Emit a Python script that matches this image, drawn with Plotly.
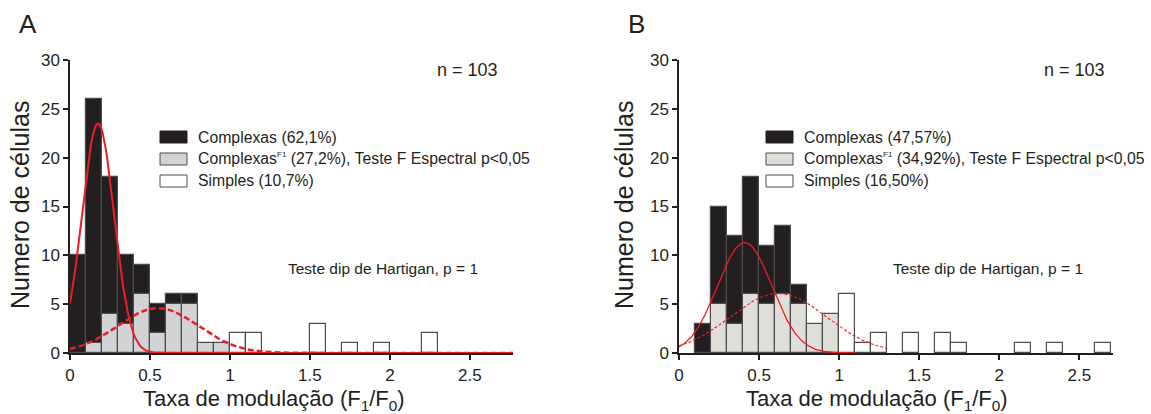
import numpy as np
import plotly.graph_objects as go

# ---------------- data ----------------
bin_width = 0.1
bin_left = [round(i * 0.1, 1) for i in range(28)]

gray_A = [0, 1, 4, 3, 6, 2, 5, 5, 1, 1] + [0] * 18
black_A = [10, 25, 14, 7, 3, 3, 1, 1, 0, 0] + [0] * 18
white_A = [0] * 10 + [2, 2, 0, 0, 0, 3, 0, 1, 0, 1, 0, 0, 2, 0, 0, 0, 0, 0]

gray_B = [0, 0, 5, 3, 6, 5, 6, 5, 3, 4] + [0] * 18
black_B = [0, 3, 10, 9, 12, 6, 7, 2, 0, 0] + [0] * 18
white_B = [0] * 10 + [6, 1, 2, 0, 2, 0, 2, 1, 0, 0, 0, 1, 0, 1, 0, 0, 1, 0]

# Gaussian fits (amplitude, mean, sigma)
fit_A_solid = (23.5, 0.175, 0.10)
fit_A_dash = (4.6, 0.55, 0.25)
fit_B_solid = (11.3, 0.41, 0.17)
fit_B_dash = (6.1, 0.62, 0.30)

SUP = "<sup><span style='font-size:8px'>F1</span></sup>"
legend_A = ["Complexas (62,1%)",
            "Complexas" + SUP + " (27,2%), Teste F Espectral p<0,05",
            "Simples (10,7%)"]
legend_B = ["Complexas (47,57%)",
            "Complexas" + SUP + " (34,92%), Teste F Espectral p<0,05",
            "Simples (16,50%)"]

y_ticks = [0, 5, 10, 15, 20, 25, 30]
x_ticks = [0, 0.5, 1, 1.5, 2, 2.5]
x_tick_text = ["0", "0.5", "1", "1.5", "2", "2.5"]

# ---------------- figure ----------------
W, H = 1151, 414
FONT = "Liberation Sans, Arial, sans-serif"
BLACK = "#231f20"
EDGE = "#4d4d4d"
RED = "#ed1c24"

fig = go.Figure()

def add_panel(xa, ya, gray, black, white, gray_col, fits, solid_w, dash_w, dash_style, xs_end):
    centers = [b + bin_width / 2 for b in bin_left]
    def sel(vals, base=None):
        xs, ys, bs = [], [], []
        for i in range(len(bin_left)):
            if vals[i] > 0:
                xs.append(centers[i]); ys.append(vals[i])
                bs.append(0 if base is None else base[i])
        return xs, ys, bs
    for vals, base, col in [(gray, None, gray_col), (black, gray, BLACK), (white, None, "#ffffff")]:
        xs, ys, bs = sel(vals, base)
        fig.add_trace(go.Bar(x=xs, y=ys, base=bs, width=bin_width, xaxis=xa, yaxis=ya,
                             marker=dict(color=col, line=dict(color=EDGE, width=1.2)),
                             showlegend=False, hoverinfo="skip"))
    (a1, m1, s1), (a2, m2, s2) = fits
    x1 = np.linspace(0, xs_end[0], 300)
    x2 = np.linspace(0, xs_end[1], 300)
    fig.add_trace(go.Scatter(x=x2, y=a2 * np.exp(-(x2 - m2) ** 2 / (2 * s2 ** 2)), mode="lines",
                             line=dict(color=RED, width=dash_w, dash=dash_style),
                             xaxis=xa, yaxis=ya, showlegend=False, hoverinfo="skip"))
    fig.add_trace(go.Scatter(x=x1, y=a1 * np.exp(-(x1 - m1) ** 2 / (2 * s1 ** 2)), mode="lines",
                             line=dict(color=RED, width=solid_w),
                             xaxis=xa, yaxis=ya, showlegend=False, hoverinfo="skip"))

add_panel("x", "y", gray_A, black_A, white_A, "#d1d3d4",
          (fit_A_solid, fit_A_dash), 2, 2.5, "6px,3px", (2.77, 2.77))
add_panel("x2", "y2", gray_B, black_B, white_B, "#e0ded8",
          (fit_B_solid, fit_B_dash), 1.3, 1.1, "3px,2px", (1.1, 1.3))

y_dom = [(H - 353) / H, (H - 60) / H]
axis_common = dict(showgrid=False, zeroline=False, showline=True, linecolor=BLACK,
                   ticks="outside", tickcolor=BLACK, ticklen=5, tickwidth=1.5,
                   tickfont=dict(family=FONT, size=17, color=BLACK), automargin=False)

fig.update_layout(
    width=W, height=H, margin=dict(l=0, r=0, t=0, b=0),
    paper_bgcolor="white", plot_bgcolor="white",
    barmode="overlay", bargap=0,
    xaxis=dict(domain=[70 / W, 513 / W], range=[0, 2.77], anchor="y",
               tickvals=x_ticks, ticktext=x_tick_text, linewidth=2.2, **axis_common),
    yaxis=dict(domain=y_dom, range=[0, 30], anchor="x", tickvals=y_ticks, linewidth=1.5,
               **axis_common),
    xaxis2=dict(domain=[679 / W, 1113 / W], range=[0, 2.71], anchor="y2",
                tickvals=x_ticks, ticktext=x_tick_text, linewidth=2.2, **axis_common),
    yaxis2=dict(domain=y_dom, range=[0, 30], anchor="x2", tickvals=y_ticks, linewidth=1.5,
                **axis_common),
)

def px_x(p):
    return p / W

def px_y(p):
    return 1 - p / H

annots = []
shapes = []

def text(x, y, s, size, xanchor="center", angle=0):
    annots.append(dict(x=px_x(x), y=px_y(y), xref="paper", yref="paper", text=s, showarrow=False,
                       xanchor=xanchor, yanchor="middle", textangle=angle,
                       font=dict(family=FONT, size=size, color=BLACK)))

XT = "Taxa de modulação (F<sub>1</sub>/F<sub>0</sub>)"
YT = "Numero de células"
text(274, 400, XT, 22)
text(877, 400, XT, 22)
text(20, 205, YT, 25, angle=-90)
text(624, 205, YT, 25, angle=-90)

text(28, 24, "A", 26)
text(636, 24, "B", 26)
text(467, 70, "n = 103", 18)
text(1074, 70, "n = 103", 18)
text(383, 268, "Teste dip de Hartigan, p = 1", 15.5)
text(988, 268, "Teste dip de Hartigan, p = 1", 15.5)

rows = [137, 159, 181]
for (sx, tx, labels, gcol) in [(160, 196, legend_A, "#d1d3d4"), (766, 802, legend_B, "#e0ded8")]:
    cols = [BLACK, gcol, "#ffffff"]
    for r, lab, c in zip(rows, labels, cols):
        shapes.append(dict(type="rect", xref="paper", yref="paper",
                           x0=px_x(sx), x1=px_x(sx + 27), y0=px_y(r + 6), y1=px_y(r - 6),
                           fillcolor=c, line=dict(color=EDGE if c != BLACK else BLACK, width=1)))
        text(tx, r, lab, 15.8, xanchor="left")

fig.update_layout(annotations=annots, shapes=shapes)
fig.write_html("out.html")
